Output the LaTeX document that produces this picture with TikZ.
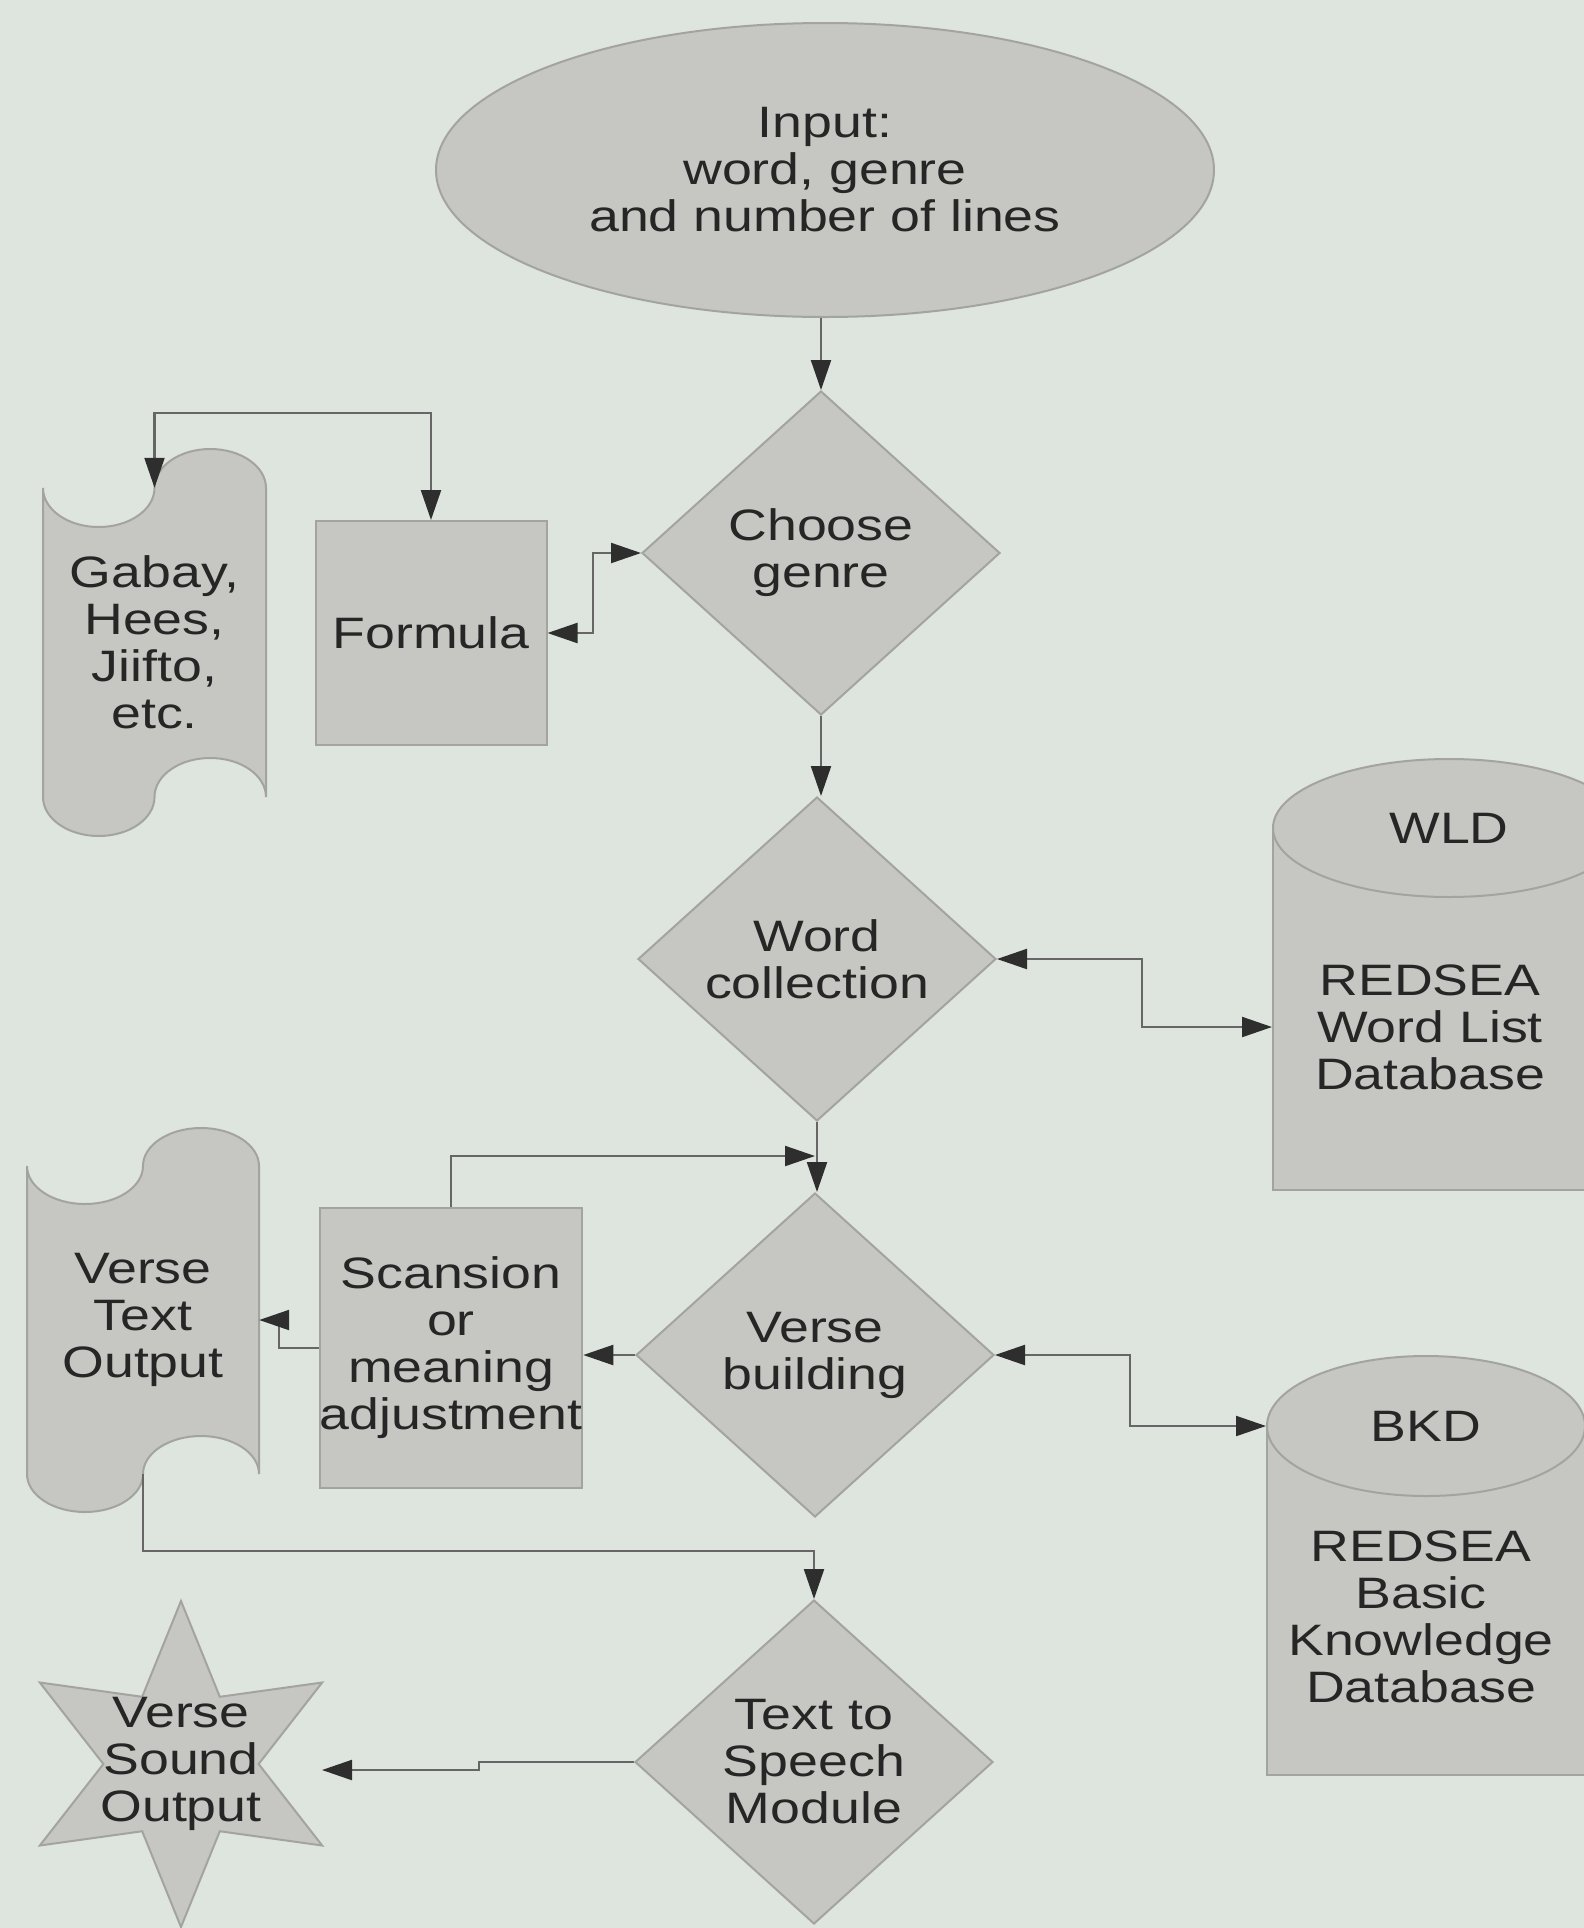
\documentclass[tikz,border=0pt]{standalone}
\usepackage{fontspec}
\setmainfont{Liberation Sans}[FakeStretch=1.22]
\usetikzlibrary{shapes.geometric,arrows.meta}
\definecolor{bgc}{HTML}{DEE4DE}
\definecolor{shp}{HTML}{C6C7C2}
\definecolor{edg}{HTML}{A3A4A0}
\definecolor{lnc}{HTML}{666666}
\definecolor{arc}{HTML}{2E2E2E}
\definecolor{txc}{HTML}{262626}
\tikzset{
  lbl/.style={text=txc, align=center, font=\fontsize{44}{47}\selectfont, inner sep=0pt},
  outline/.style={fill=shp, draw=edg, line width=2pt},
  base/.style={lbl, outline},
  dia/.style={base, diamond, minimum width=358pt, minimum height=324pt},
  box/.style={base, rectangle},
  tapearea/.style={lbl, rectangle},
  conn/.style={draw=lnc, line width=2.2pt},
  tip/.tip={Triangle[length=30pt,width=20pt,color=arc]},
  arr/.style={conn, -tip},
  biarr/.style={conn, tip-tip},
}
% punched-tape outline: #1=left x, #2=right x, #3=top corner y, #4=bottom corner y, #5=wave amplitude
\newcommand\drawpunchtape[5]{%
  \pgfmathsetmacro\tq{(#2-#1)/4}%
  \pgfmathsetmacro\tk{0.5523}%
  \filldraw[outline] (#1,#3)
    .. controls (#1,{#3+\tk*#5}) and ({#1+\tq-\tk*\tq},{#3+#5}) .. ({#1+\tq},{#3+#5})
    .. controls ({#1+\tq+\tk*\tq},{#3+#5}) and ({#1+2*\tq},{#3+\tk*#5}) .. ({#1+2*\tq},#3)
    .. controls ({#1+2*\tq},{#3-\tk*#5}) and ({#1+3*\tq-\tk*\tq},{#3-#5}) .. ({#1+3*\tq},{#3-#5})
    .. controls ({#1+3*\tq+\tk*\tq},{#3-#5}) and (#2,{#3-\tk*#5}) .. (#2,#3)
    -- (#2,#4)
    .. controls (#2,{#4-\tk*#5}) and ({#2-\tq+\tk*\tq},{#4-#5}) .. ({#2-\tq},{#4-#5})
    .. controls ({#2-\tq-\tk*\tq},{#4-#5}) and ({#2-2*\tq},{#4-\tk*#5}) .. ({#2-2*\tq},#4)
    .. controls ({#2-2*\tq},{#4+\tk*#5}) and ({#2-3*\tq+\tk*\tq},{#4+#5}) .. ({#2-3*\tq},{#4+#5})
    .. controls ({#2-3*\tq-\tk*\tq},{#4+#5}) and (#1,{#4+\tk*#5}) .. (#1,#4)
    -- cycle;%
}
\begin{document}
\begin{tikzpicture}[x=1pt,y=-1pt]
\useasboundingbox (0,0) rectangle (1584,1928);
\clip (0,0) rectangle (1584,1928);
\fill[bgc] (0,0) rectangle (1584,1928);

% punched tapes
\drawpunchtape{43}{266}{488}{797}{39}
\drawpunchtape{27}{259}{1166}{1474}{38}

% nodes
\node[base, ellipse, minimum width=778pt, minimum height=294pt] (in) at (825,170) {Input:\\word, genre\\and number of lines};
\node[dia] (cg) at (821,553) {Choose\\genre};
\node[box, minimum width=231pt, minimum height=224pt] (fo) at (431,633) {Formula};
\node[tapearea, minimum width=223pt, minimum height=309pt] (ga) at (154.5,642.5) {Gabay,\\Hees,\\Jiifto,\\etc.};
\node[dia] (wc) at (817,959) {Word\\collection};
\node[dia] (vb) at (815,1355) {Verse\\building};
\node[box, minimum width=248pt, minimum height=280pt] (sc) at (451,1348) {Scansion\\or\\meaning\\adjustment};
\node[tapearea, minimum width=232pt, minimum height=308pt] (vto) at (143,1320) {Verse\\Text\\Output};
\node[dia] (tts) at (814,1762) {Text to\\Speech\\Module};
\node[base, star, star points=6, star point ratio=2.1, minimum size=326pt] (star) at (181,1764) {};
\node[lbl] (startext) at (181,1764) {Verse\\Sound\\Output};

% WLD store
\node[base, rectangle, minimum width=352pt, minimum height=362pt] (wldb) at (1449,1009) {};
\node[base, ellipse, minimum width=352pt, minimum height=138pt] (wldtop) at (1449,828) {WLD};
\node[lbl] (wldt) at (1430,1027) {REDSEA\\Word List\\Database};

% BKD store
\node[base, rectangle, minimum width=318pt, minimum height=350pt] (bkdb) at (1426,1600) {};
\node[base, ellipse, minimum width=318pt, minimum height=140pt] (bkdtop) at (1426,1426) {BKD};
\node[lbl] (bkdt) at (1421,1617) {REDSEA\\Basic\\Knowledge\\Database};

\coordinate (starE) at (322,1770);

% connectors
\draw[arr] (in.south -| cg.north) -- (cg.north);
\draw[biarr] (cg.west) -- ([xshift=-48pt]cg.west) |- (fo.east);
\draw[biarr] (fo.north) -- ([yshift=107pt]fo.north) -| (ga.north);
\draw[arr] (cg.south) -- (cg.south |- wc.north);
\draw[biarr] (wc.east) -- ([xshift=145pt]wc.east) |- (wldt.west -| wldb.west);
\draw[arr] (wc.south) -- (wc.south |- vb.north);
\draw[arr] (sc.north) |- ([yshift=36pt]vb.north);
\draw[arr] (vb.west) -- (vb.west -| sc.east);
\draw[arr] (sc.west) -- ([xshift=-40pt]sc.west) |- (vto.east);
\draw[arr] (vto.south) |- ([yshift=48pt]tts.north) -- (tts.north);
\draw[biarr] (vb.east) -- ([xshift=135pt]vb.east) |- (bkdtop.west);
\draw[arr] (tts.west) -- ++(-155,0) |- (starE);
\end{tikzpicture}
\end{document}
